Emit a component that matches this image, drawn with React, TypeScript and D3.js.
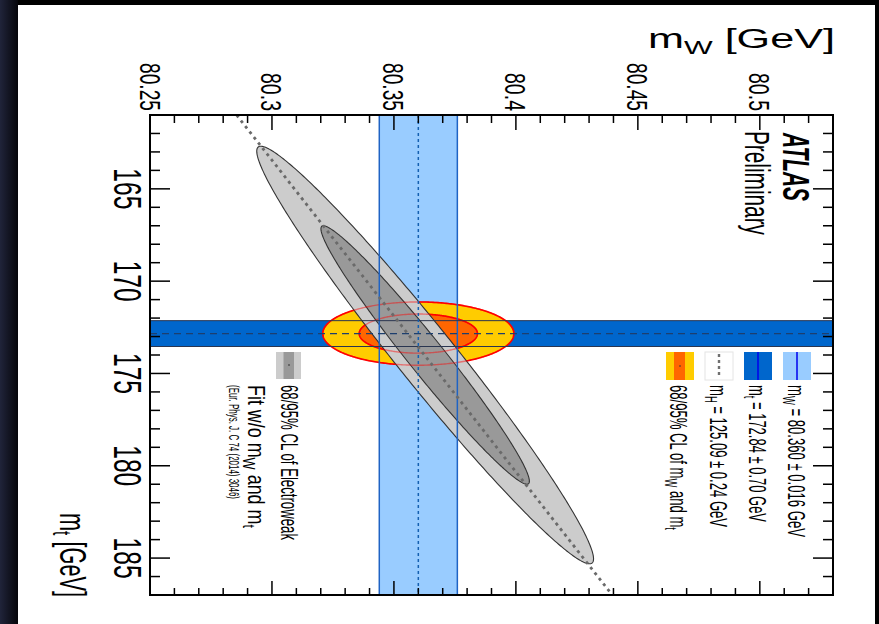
import React from 'react';
import * as d3 from 'd3';

const W = 879;
const H = 624;

// axis domains and ticks
const mwDomain = [80.25, 80.53];
const mtDomain = [161, 187];
const mwTickValues = [80.25, 80.3, 80.35, 80.4, 80.45, 80.5];
const mwTickLabels = ['80.25', '80.3', '80.35', '80.4', '80.45', '80.5'];
const mtTickValues = [165, 170, 175, 180, 185];
const mtTickLabels = ['165', '170', '175', '180', '185'];

// measurements
const mwValue = 80.360;
const mwError = 0.016;
const mtValue = 172.84;
const mtError = 0.70;
const clLevels = [2.448, 1.515]; // 95% and 68% CL (2D)

// electroweak fit (w/o mW and mt)
const ewCenterMt = 174.0;
const ewCenterMw = 80.3628;
const ewSigmaMt = 4.62;
const ewSigmaMw = 0.0282;
const ewRho = 0.976;

// mH = 125.09 prediction line
const mhLineMt = [161, 187];
const mhLineMw = [80.2855, 80.4395];

const FONT = '"Liberation Sans", Arial, Helvetica, sans-serif';

const L = 150, R = 833, T = 115, B = 595;

const x = d3.scaleLinear().domain(mwDomain).range([L, R]);
const y = d3.scaleLinear().domain(mtDomain).range([T, B]);

function ellipse(cMt: number, cMw: number, sMt: number, sMw: number, rho: number, k: number) {
  const pts: [number, number][] = d3.range(0, 361, 1).map((deg) => {
    const th = (deg * Math.PI) / 180;
    const mt = cMt + k * sMt * Math.cos(th);
    const mw = cMw + k * sMw * (rho * Math.cos(th) + Math.sqrt(1 - rho * rho) * Math.sin(th));
    return [x(mw), y(mt)];
  });
  return d3.line()(pts) + 'Z';
}

function VText(props: any) {
  const { x: px, y: py, size, len, anchor = 'start', weight = 'normal', italic = false, children } = props;
  return (
    <text
      transform={`translate(${px},${py}) rotate(90)`}
      fontSize={size}
      fontFamily={FONT}
      fontWeight={weight}
      fontStyle={italic ? 'italic' : 'normal'}
      textAnchor={anchor}
      textLength={len}
      lengthAdjust="spacingAndGlyphs"
      fill="#000"
    >
      {children}
    </text>
  );
}

export default function App() {
  const mwMinor = d3.range(0, 29).map((i) => ({ v: mwDomain[0] + i * 0.01, major: i % 5 === 0 }));
  const mtMinor = d3.range(mtDomain[0], mtDomain[1] + 1).map((v) => ({ v, major: v % 5 === 0 }));

  const combined = clLevels.map((k) => ellipse(mtValue, mwValue, mtError, mwError, 0, k));
  const ew = clLevels.map((k) => ellipse(ewCenterMt, ewCenterMw, ewSigmaMt, ewSigmaMw, ewRho, k));
  const mhPath = d3.line()(mhLineMt.map((m, i) => [x(mhLineMw[i]), y(m)] as [number, number]));

  const bx0 = x(mwValue - mwError), bx1 = x(mwValue + mwError);
  const by0 = y(mtValue - mtError), by1 = y(mtValue + mtError);

  const legX = [797, 758, 719, 680];
  const legLen = [152, 137, 142, 145];
  const boxW = 28, boxT = 352, boxB = 380;

  return (
    <svg width={W} height={H} style={{ position: 'absolute', left: 0, top: 0 }}>
      <defs>
        <clipPath id="frame">
          <rect x={L} y={T} width={R - L} height={B - T} />
        </clipPath>
        <linearGradient id="side" x1="0" y1="0" x2="1" y2="0">
          <stop offset="0" stopColor="#20243a" />
          <stop offset="1" stopColor="#05050a" />
        </linearGradient>
      </defs>
      <rect x={0} y={0} width={W} height={H} fill="#000" />
      <rect x={0} y={0} width={18} height={H} fill="url(#side)" />
      <rect x={18} y={5} width={857} height={H - 5} fill="#fff" />

      <g clipPath="url(#frame)">
        <rect x={bx0} y={T} width={bx1 - bx0} height={B - T} fill="#99ccff" />
        <rect x={L} y={by0} width={R - L} height={by1 - by0} fill="#0066cc" />
        <path d={combined[0]} fill="#ffcc00" />
        <path d={combined[1]} fill="#ff6600" />
        <path d={combined[0]} fill="none" stroke="#ff0000" strokeWidth={1.6} />
        <path d={combined[1]} fill="none" stroke="#ff0000" strokeWidth={1.6} />
        <path d={ew[0]} fill="#cccccc" stroke="#333" strokeWidth={1.1} />
        <path d={ew[1]} fill="#999999" stroke="#333" strokeWidth={1.1} />
        <path d={combined[0]} fill="none" stroke="#ff0000" strokeWidth={1.4} opacity={0.45} />
        <path d={combined[1]} fill="none" stroke="#ff0000" strokeWidth={1.4} opacity={0.45} />
        <line x1={bx0} x2={bx0} y1={T} y2={B} stroke="#1f63c4" strokeWidth={1.5} />
        <line x1={bx1} x2={bx1} y1={T} y2={B} stroke="#1f63c4" strokeWidth={1.5} />
        <line x1={L} x2={R} y1={by0} y2={by0} stroke="#2a3550" strokeWidth={1} />
        <line x1={L} x2={R} y1={by1} y2={by1} stroke="#2a3550" strokeWidth={1} />
        <line x1={x(mwValue)} x2={x(mwValue)} y1={T} y2={B} stroke="#1560b0" strokeWidth={1.5} strokeDasharray="3,3" />
        <line x1={L} x2={R} y1={y(mtValue)} y2={y(mtValue)} stroke="#1d3f6e" strokeWidth={1.2} strokeDasharray="7,5" />
        <path d={mhPath!} fill="none" stroke="#6a6a6a" strokeWidth={2.8} strokeDasharray="3,4" />
      </g>

      {/* frame */}
      <rect x={L} y={T} width={R - L} height={B - T} fill="none" stroke="#000" strokeWidth={2} />
      {mwMinor.map((t, i) => (
        <g key={'mw' + i}>
          <line x1={x(t.v)} x2={x(t.v)} y1={T} y2={T + (t.major ? 15 : 8)} stroke="#000" strokeWidth={1.5} />
          <line x1={x(t.v)} x2={x(t.v)} y1={B} y2={B - (t.major ? 14 : 7)} stroke="#000" strokeWidth={1.5} />
        </g>
      ))}
      {mtMinor.map((t, i) => (
        <g key={'mt' + i}>
          <line x1={L} x2={L + (t.major ? 20 : 10)} y1={y(t.v)} y2={y(t.v)} stroke="#000" strokeWidth={1.5} />
          <line x1={R} x2={R - (t.major ? 20 : 10)} y1={y(t.v)} y2={y(t.v)} stroke="#000" strokeWidth={1.5} />
        </g>
      ))}

      {/* tick labels */}
      {mwTickValues.map((v, i) => (
        <VText key={'mwl' + i} x={x(v) - 10.5} y={111} size={29} anchor="end" len={mwTickLabels[i].length === 5 ? 48 : 38}>
          {mwTickLabels[i]}
        </VText>
      ))}
      {mtTickValues.map((v, i) => (
        <VText key={'mtl' + i} x={114} y={y(v)} size={38} anchor="middle" len={41}>
          {mtTickLabels[i]}
        </VText>
      ))}

      {/* axis titles */}
      <text transform="translate(648,48)" fontSize={27} fontFamily={FONT} textLength={187} lengthAdjust="spacingAndGlyphs">
        m<tspan dy="6" fontSize={19}>W</tspan><tspan dy="-6"> [GeV]</tspan>
      </text>
      <VText x={60} y={597} size={36} anchor="end" len={84}>
        m<tspan dy="0.28em" fontSize="0.72em">t</tspan><tspan dy="-0.2em"> [GeV]</tspan>
      </VText>

      <VText x={783} y={133} size={37} weight="bold" italic len={68}>ATLAS</VText>
      <VText x={745} y={131} size={35} len={104}>Preliminary</VText>

      {/* legend right */}
      <rect x={legX[0] - boxW / 2} y={boxT} width={boxW} height={boxB - boxT} fill="#99ccff" />
      <line x1={legX[0]} x2={legX[0]} y1={boxT} y2={boxB} stroke="#0000ee" strokeWidth={1.5} />
      <rect x={legX[1] - boxW / 2} y={boxT} width={boxW} height={boxB - boxT} fill="#0066cc" />
      <line x1={legX[1]} x2={legX[1]} y1={boxT} y2={boxB} stroke="#0000ee" strokeWidth={1.5} />
      <rect x={legX[2] - boxW / 2} y={boxT} width={boxW} height={boxB - boxT} fill="#fff" stroke="#e4e4e4" />
      <line x1={legX[2]} x2={legX[2]} y1={boxT + 2} y2={boxB - 2} stroke="#707070" strokeWidth={2.4} strokeDasharray="3,3" />
      <rect x={legX[3] - boxW / 2} y={boxT} width={boxW} height={boxB - boxT} fill="#ffcc00" />
      <rect x={legX[3] - 6} y={boxT} width={11} height={boxB - boxT} fill="#ff6600" />
      <circle cx={legX[3]} cy={(boxT + boxB) / 2} r={0.8} fill="#333" />

      <VText x={788} y={385} size={24} len={legLen[0]}>
        m<tspan dy="0.28em" fontSize="0.72em">W</tspan><tspan dy="-0.2em"> = 80.360 ± 0.016 GeV</tspan>
      </VText>
      <VText x={749} y={385} size={24} len={legLen[1]}>
        m<tspan dy="0.28em" fontSize="0.72em">t</tspan><tspan dy="-0.2em"> = 172.84 ± 0.70 GeV</tspan>
      </VText>
      <VText x={710} y={385} size={24} len={legLen[2]}>
        m<tspan dy="0.28em" fontSize="0.72em">H</tspan><tspan dy="-0.2em"> = 125.09 ± 0.24 GeV</tspan>
      </VText>
      <VText x={670} y={385} size={24} len={legLen[3]}>
        68/95% CL of m<tspan dy="0.28em" fontSize="0.72em">W</tspan><tspan dy="-0.2em"> and m</tspan><tspan dy="0.28em" fontSize="0.72em">t</tspan>
      </VText>

      {/* legend left */}
      <rect x={276} y={352} width={25} height={27} fill="#cccccc" />
      <rect x={283.5} y={352} width={10.5} height={27} fill="#999999" />
      <circle cx={289} cy={365} r={0.8} fill="#222" />
      <VText x={281} y={385} size={24} len={155}>68/95% CL of Electroweak</VText>
      <VText x={248} y={385} size={24} len={143}>
        Fit w/o m<tspan dy="0.28em" fontSize="0.72em">W</tspan><tspan dy="-0.2em"> and m</tspan><tspan dy="0.28em" fontSize="0.72em">t</tspan>
      </VText>
      <VText x={229} y={385} size={15} len={114}>(Eur. Phys. J. C 74 (2014) 3046)</VText>
    </svg>
  );
}
